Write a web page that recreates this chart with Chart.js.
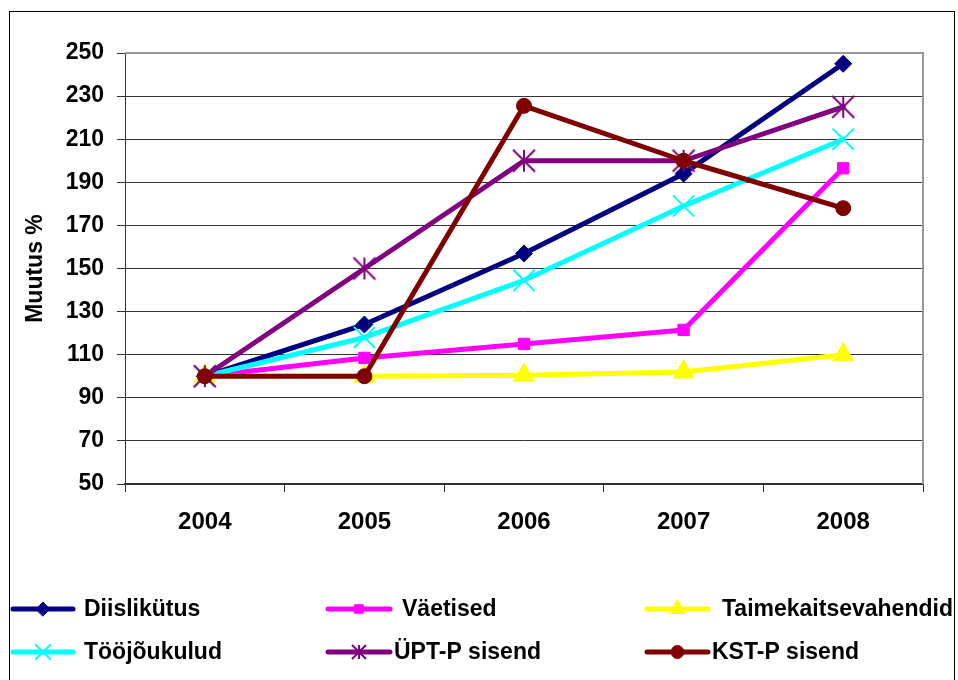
<!DOCTYPE html>
<html><head><meta charset="utf-8">
<script src="https://cdn.jsdelivr.net/npm/chart.js@4.4.0/dist/chart.umd.min.js"></script>
<style>html,body{margin:0;padding:0;background:#fff;}</style>
</head><body>
<canvas id="c" width="958" height="680"></canvas>
<script>
// ---- data ----
const years = ['2004', '2005', '2006', '2007', '2008'];
const seriesNames = ['Diislikütus', 'Väetised', 'Taimekaitsevahendid', 'Tööjõukulud', 'ÜPT-P sisend', 'KST-P sisend'];
const diislikutus = [100, 124, 157, 194, 245];
const vaetised = [100, 108.5, 115, 121.5, 196.5];
const taimekaitsevahendid = [100, 100, 100.5, 102, 110];
const toojoukulud = [100, 118, 144.5, 179, 210];
const uptpSisend = [100, 150, 200, 200, 225];
const kstpSisend = [100, 100, 225.5, 200, 178];
const yTickValues = [50, 70, 90, 110, 130, 150, 170, 190, 210, 230, 250];
const yTitle = 'Muutus %';

// ---- styles ----
const FONT = "'Liberation Sans', Arial, Helvetica, sans-serif";
function starImg(color, r, lw) {
  const c = document.createElement('canvas');
  c.width = c.height = 2 * r + 4;
  const x = c.getContext('2d');
  const m = r + 2;
  x.strokeStyle = color; x.lineWidth = lw;
  x.beginPath();
  x.moveTo(m, m - r); x.lineTo(m, m + r);
  x.moveTo(m - r, m - r); x.lineTo(m + r, m + r);
  x.moveTo(m + r, m - r); x.lineTo(m - r, m + r);
  x.stroke();
  return c;
}
const styles = [
  {color: '#000080', pointStyle: 'rectRot', radius: 8.5, bw: 1, legendRadius: 7},
  {color: '#FF00FF', pointStyle: 'rect', radius: 8, bw: 1, legendRadius: 6},
  {color: '#FFFF00', pointStyle: 'triangle', radius: 12, bw: 1, legendRadius: 9},
  {color: '#00FFFF', pointStyle: 'crossRot', radius: 15, bw: 2, legendRadius: 10},
  {color: '#800080', pointStyle: starImg('#800080', 11, 2), radius: 11, bw: 2, legendStyle: starImg('#800080', 7, 2), legendRadius: 7},
  {color: '#800000', pointStyle: 'circle', radius: 7.5, bw: 1, legendRadius: 6.5}
];
const seriesValues = [diislikutus, vaetised, taimekaitsevahendid, toojoukulud, uptpSisend, kstpSisend];

const datasets = seriesNames.map((name, i) => ({
  label: name,
  data: seriesValues[i],
  borderColor: styles[i].color,
  backgroundColor: styles[i].color,
  pointBackgroundColor: styles[i].color,
  pointBorderColor: styles[i].color,
  pointStyle: styles[i].pointStyle,
  pointRadius: styles[i].radius,
  pointBorderWidth: styles[i].bw,
  borderWidth: 5,
  borderJoinStyle: 'round',
  borderCapStyle: 'round',
  tension: 0,
  order: seriesNames.length - 1 - i,
  clip: false
}));

const framePlugin = {
  id: 'frame',
  beforeDatasetsDraw(chart) {
    const {ctx, chartArea: a} = chart;
    ctx.save();
    ctx.strokeStyle = '#999';
    ctx.lineWidth = 2;
    ctx.beginPath();
    ctx.moveTo(a.left, a.top);
    ctx.lineTo(a.right, a.top);
    ctx.lineTo(a.right, a.bottom);
    ctx.stroke();
    ctx.restore();
  },
  afterDraw(chart) {
    const ctx = chart.ctx;
    ctx.save();
    // outer border
    ctx.strokeStyle = '#000';
    ctx.lineWidth = 1;
    ctx.strokeRect(9.5, 11.5, 945, 700);
    // legend
    ctx.beginPath();
    ctx.rect(10, 12, 944, 700);
    ctx.clip();
    const colLine = [[13, 73], [328, 390], [647, 708]];
    const colText = [[84, 84], [402, 394], [722, 712]];
    const rowY = [609, 652];
    chart.data.datasets.forEach((ds, i) => {
      const col = i % 3, row = Math.floor(i / 3);
      const y = rowY[row];
      const [x1, x2] = colLine[col];
      ctx.strokeStyle = ds.borderColor;
      ctx.lineWidth = 5;
      ctx.lineCap = 'round';
      ctx.beginPath();
      ctx.moveTo(x1, y); ctx.lineTo(x2, y);
      ctx.stroke();
      const st = styles[i];
      ctx.fillStyle = ds.borderColor;
      ctx.strokeStyle = ds.borderColor;
      ctx.lineWidth = st.bw;
      Chart.helpers.drawPoint(ctx, {
        pointStyle: st.legendStyle || st.pointStyle,
        radius: st.legendRadius,
        rotation: 0,
        borderWidth: st.bw
      }, (x1 + x2) / 2, y);
      ctx.fillStyle = '#000';
      ctx.font = 'bold 23px ' + FONT;
      ctx.textBaseline = 'middle';
      ctx.textAlign = 'left';
      ctx.fillText(ds.label, colText[col][row], y + 1);
    });
    ctx.restore();
  }
};

new Chart(document.getElementById('c'), {
  type: 'line',
  data: {labels: years, datasets},
  plugins: [framePlugin],
  options: {
    responsive: false,
    animation: false,
    devicePixelRatio: 1,
    layout: {padding: {left: 10, top: 53, right: 35, bottom: 136}},
    plugins: {legend: {display: false}, tooltip: {enabled: false}},
    scales: {
      x: {
        type: 'category',
        offset: true,
        grid: {offset: true, drawOnChartArea: false, drawTicks: true, tickLength: 8, color: '#333'},
        border: {color: '#333', width: 2},
        ticks: {font: {family: FONT, weight: 'bold', size: 24}, color: '#000', padding: 16, maxRotation: 0},
        afterFit(s) { s.height = 60; }
      },
      y: {
        min: 50, max: 250,
        afterBuildTicks(s) { s.ticks = yTickValues.map(v => ({value: v})); },
        grid: {color: '#333', tickLength: 8},
        border: {color: '#333', width: 1},
        ticks: {font: {family: FONT, weight: 'bold', size: 23}, color: '#000', padding: 13},
        title: {display: true, text: yTitle, color: '#000', font: {family: FONT, weight: 'bold', size: 23}, padding: {top: 12, bottom: 0}},
        afterFit(s) { s.width = 115; }
      }
    }
  }
});
</script>
</body></html>
